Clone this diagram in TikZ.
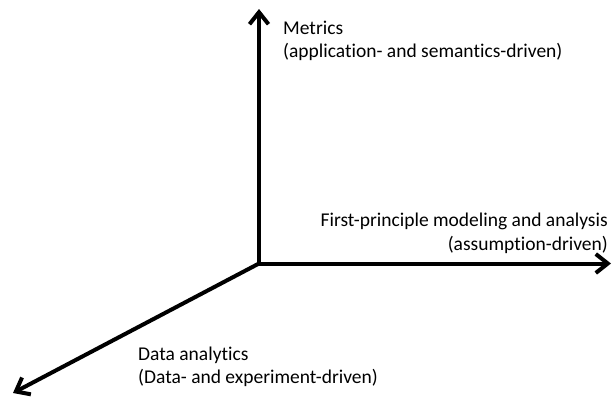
\documentclass[tikz,border=0pt]{standalone}
\usepackage{fontspec}
\setmainfont[Ligatures=NoCommon]{Carlito}
\usetikzlibrary{arrows.meta}
\begin{document}
\begin{tikzpicture}[x=1pt,y=-1pt,
  axis/.style={line width=4pt,-{Straight Barb[length=12pt,width=19pt,line width=4pt]}},
  lbl/.style={inner sep=0pt,font=\fontsize{19.5}{23.5}\selectfont,align=left}]
\useasboundingbox (0,0) rectangle (614,397);
\coordinate (o) at (259,263.5);
\coordinate (top) at (259,9);
\coordinate (right) at (611,263.5);
\coordinate (dl) at (13,393);
\draw[axis] (o) -- (top);
\draw[axis] (o) -- (right);
\draw[axis] (o) -- (dl);
\node[lbl,anchor=north west] (metrics) at (283,20.5) {Metrics\\(application- and semantics-driven)};
\node[lbl,anchor=north east,align=right] (fp) at (608,213) {First-principle modeling and analysis\\(assumption-driven)};
\node[lbl,anchor=north west] (data) at (138,346.5) {Data analytics\\(Data- and experiment-driven)};
\end{tikzpicture}
\end{document}
